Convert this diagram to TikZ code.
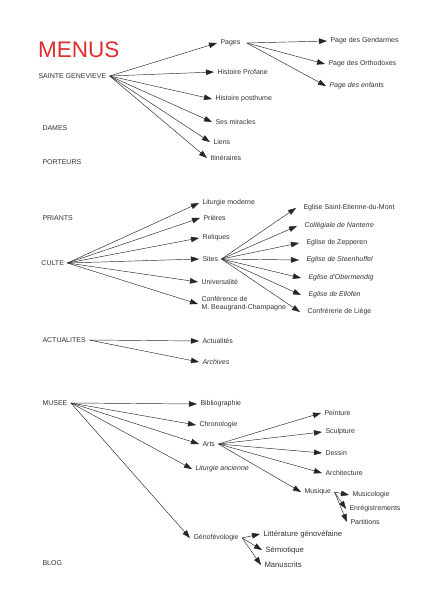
\documentclass[tikz,border=0pt]{standalone}
\usepackage{fontspec}
\setmainfont{Liberation Sans}
\usetikzlibrary{arrows.meta}
\definecolor{menured}{RGB}{225,45,45}
\begin{document}
\begin{tikzpicture}[x=1pt,y=-1pt,
 lbl/.style={anchor=west,inner sep=1pt,outer sep=2.5pt,font=\fontsize{7}{8.2}\selectfont,text=black!80},
 it/.style={lbl,font=\fontsize{7}{8.2}\selectfont\itshape},
 big/.style={lbl,font=\fontsize{7.7}{9}\selectfont},
 arr/.style={-{Triangle[length=8pt,width=5.5pt]},line width=0.45pt,draw=black!85}]
\useasboundingbox[fill=white] (0,0) rectangle (424,600);
% titles
\node[anchor=west,inner sep=0pt,font=\fontsize{22.5}{24}\selectfont,text=menured] (menus) at (38,50) {MENUS};
% left column
\node[lbl] (sg) at (35,76) {SAINTE GENEVIEVE};
\node[lbl] (dames) at (39,128) {DAMES};
\node[lbl] (porteurs) at (39,162) {PORTEURS};
\node[lbl] (priants) at (39,218) {PRIANTS};
\node[lbl] (culte) at (38,263) {CULTE};
\node[lbl] (actu) at (39,340) {ACTUALITES};
\node[lbl] (musee) at (39,403) {MUSEE};
\node[lbl] (blog) at (39,563) {BLOG};
% Sainte Genevieve
\node[lbl] (pages) at (217,43) {Pages};
\node[lbl] (hprof) at (214,72) {Histoire Profane};
\node[lbl] (hpost) at (212,99) {Histoire posthume};
\node[lbl] (miracles) at (212,122) {Ses miracles};
\node[lbl] (liens) at (210,142) {Liens};
\node[lbl] (itin) at (207,158) {Itinéraires};
\node[lbl] (pgend) at (327,41) {Page des Gendarmes};
\node[lbl] (porth) at (325,64) {Page des Orthodoxes};
\node[it] (penf) at (326,86) {Page des enfants};
% Culte
\node[lbl] (litmod) at (199,203) {Liturgie moderne};
\node[lbl] (prieres) at (200,218) {Prières};
\node[lbl] (reliques) at (199,238) {Reliques};
\node[lbl] (sites) at (199,259) {Sites};
\node[lbl] (univ) at (198,282) {Universalité};
\node[lbl,align=left] (conf) at (198,304) {Conférence de\\M. Beaugrand-Champagne};
\node[lbl] (e1) at (300,208) {Eglise Saint-Etienne-du-Mont};
\node[it] (e2) at (301,226) {Collégiale de Nanterre};
\node[lbl] (e3) at (303,243) {Eglise de Zepperen};
\node[it] (e4) at (303,260) {Eglise de Steenhuffel};
\node[it] (e5) at (305,278) {Eglise d'Obermendig};
\node[it] (e6) at (305,295) {Eglise de Ellofen};
\node[lbl] (e7) at (304,312) {Confrérerie de Liège};
% Actualites
\node[lbl] (actualites) at (199,341) {Actualités};
\node[it] (archives) at (199,362) {Archives};
% Musee
\node[lbl] (biblio) at (197,404) {Bibliographie};
\node[lbl] (chrono) at (196,425) {Chronologie};
\node[lbl] (arts) at (199,444) {Arts};
\node[it] (litanc) at (192,469) {Liturgie ancienne};
\node[lbl] (peinture) at (321,413) {Peinture};
\node[lbl] (sculpture) at (322,432) {Sculpture};
\node[lbl] (dessin) at (322,453) {Dessin};
\node[lbl] (archi) at (322,473) {Architecture};
\node[lbl] (musique) at (301,492) {Musique};
\node[lbl] (musicol) at (349,495) {Musicologie};
\node[lbl] (enreg) at (346,509) {Enrégistrements};
\node[lbl] (partitions) at (347,522) {Partitions};
\node[lbl] (geno) at (190,538) {Génofévologie};
\node[big] (litt) at (260,534) {Littérature génovéfaine};
\node[big] (semio) at (262,550) {Sémiotique};
\node[big] (manus) at (261,565) {Manuscrits};
% arrows
\foreach \t in {pages,hprof,hpost,miracles,liens,itin}
  \draw[arr] (sg.east) -- (\t.west);
\foreach \t in {pgend,porth,penf}
  \draw[arr] ([xshift=3pt]pages.east) -- (\t.west);
\foreach \t in {litmod,prieres,reliques,sites,univ,conf}
  \draw[arr] (culte.east) -- (\t.west);
\foreach \t in {e1,e2,e3,e4,e5,e6,e7}
  \draw[arr] (sites.east) -- ([xshift=-4pt]\t.west);
\foreach \t in {actualites,archives}
  \draw[arr] (actu.east) -- (\t.west);
\foreach \t in {biblio,chrono,arts,litanc,geno}
  \draw[arr] (musee.east) -- (\t.west);
\foreach \t in {peinture,sculpture,dessin,archi,musique}
  \draw[arr] (arts.east) -- (\t.west);
\foreach \t in {musicol,enreg,partitions}
  \draw[arr] (musique.east) -- (\t.west);
\foreach \t in {litt,semio,manus}
  \draw[arr] (geno.east) -- (\t.west);
\end{tikzpicture}
\end{document}
